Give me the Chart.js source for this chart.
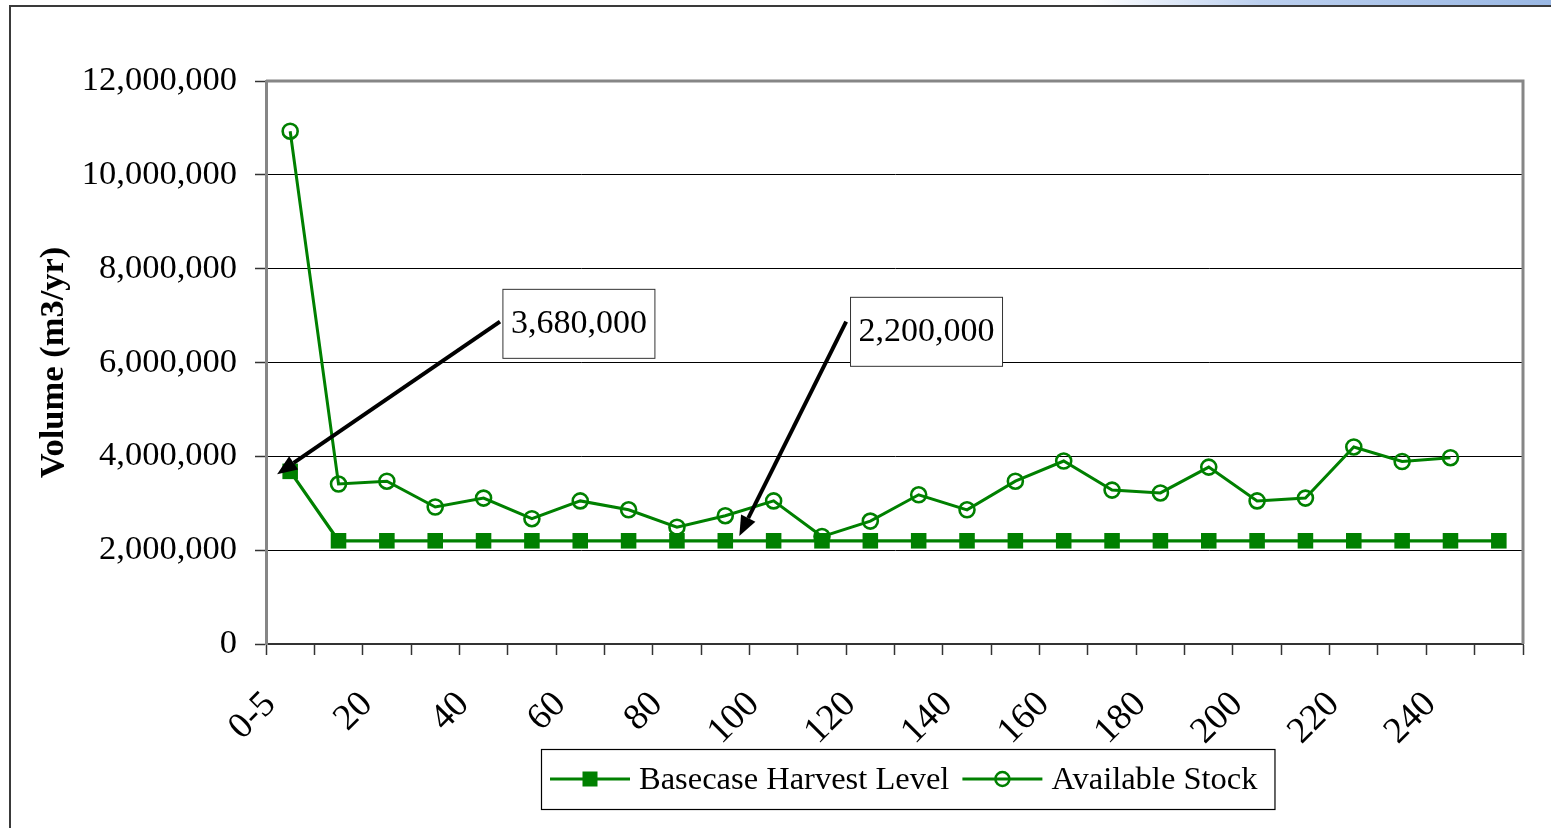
<!DOCTYPE html>
<html>
<head>
<meta charset="utf-8">
<script src="https://cdn.jsdelivr.net/npm/chart.js@4/dist/chart.umd.min.js"></script>
<style>
html,body{margin:0;padding:0;background:#fff;}
#wrap{position:relative;width:1551px;height:828px;overflow:hidden;background:#fff;}
#band{position:absolute;left:0;top:0;width:1551px;height:6px;background:linear-gradient(to right,#ffffff 0px,#ffffff 1090px,#bcd0ef 1260px,#9ab8e4 1551px);}
#frame{position:absolute;left:9px;top:5px;width:1600px;height:900px;border-left:2px solid #3a3a3a;border-top:2px solid #3a3a3a;}
#c{position:absolute;left:0;top:0;}
</style>
</head>
<body>
<div id="wrap"><div id="band"></div><div id="frame"></div><canvas id="c" width="1551" height="828"></canvas></div>
<script>
// ---- data ----
const categories = ["0-5","10","20","30","40","50","60","70","80","90","100","110","120","130","140","150","160","170","180","190","200","210","220","230","240","250"];
const harvestLevel = [3680000,2200000,2200000,2200000,2200000,2200000,2200000,2200000,2200000,2200000,2200000,2200000,2200000,2200000,2200000,2200000,2200000,2200000,2200000,2200000,2200000,2200000,2200000,2200000,2200000,2200000];
const availableStock = [10930000,3410000,3470000,2920000,3110000,2670000,3050000,2860000,2490000,2735000,3050000,2290000,2620000,3180000,2860000,3470000,3900000,3280000,3220000,3770000,3050000,3110000,4200000,3890000,3970000,null];
const yTickValues = [0,2000000,4000000,6000000,8000000,10000000,12000000];
const seriesNames = ["Basecase Harvest Level","Available Stock"];
const annotationTexts = ["3,680,000","2,200,000"];

const GREEN = "#008000";
const FONT = '"Liberation Serif","Times New Roman",serif';

// annotation placement (box + arrow) in scale units: category index / value
const annotationLayout = [
  {box:{i:4.39, v:7570000}, tail:{i:4.34, v:6870000}, head:{i:-0.27, v:3620000}},
  {box:{i:11.58, v:7400000}, tail:{i:11.50, v:6870000}, head:{i:9.29, v:2300000}}
];

function drawArrow(ctx, x1, y1, x2, y2){
  const ang = Math.atan2(y2-y1, x2-x1);
  const L = 20, W = 8;
  const bx = x2 - L*Math.cos(ang), by = y2 - L*Math.sin(ang);
  ctx.save();
  ctx.strokeStyle = "#000"; ctx.fillStyle = "#000"; ctx.lineWidth = 4; ctx.lineCap = "butt";
  ctx.beginPath(); ctx.moveTo(x1,y1); ctx.lineTo(bx,by); ctx.stroke();
  ctx.beginPath();
  ctx.moveTo(x2,y2);
  ctx.lineTo(bx + W*Math.sin(ang), by - W*Math.cos(ang));
  ctx.lineTo(bx - W*Math.sin(ang), by + W*Math.cos(ang));
  ctx.closePath(); ctx.fill();
  ctx.restore();
}

const overlayPlugin = {
  id: "overlay",
  afterDatasetsDraw(chart){
    const ctx = chart.ctx, ca = chart.chartArea;
    const xs = chart.scales.x, ys = chart.scales.y;
    ctx.save();
    // plot border top and right
    ctx.strokeStyle = "#868686"; ctx.lineWidth = 3;
    ctx.beginPath();
    ctx.moveTo(ca.left, ca.top); ctx.lineTo(ca.right, ca.top); ctx.lineTo(ca.right, ca.bottom);
    ctx.stroke();
    // annotations
    annotationTexts.forEach((t, k) => {
      const a = annotationLayout[k];
      drawArrow(ctx, xs.getPixelForValue(a.tail.i), ys.getPixelForValue(a.tail.v),
                     xs.getPixelForValue(a.head.i), ys.getPixelForValue(a.head.v));
      ctx.font = "34px " + FONT;
      const tw = ctx.measureText(t).width;
      const bx = xs.getPixelForValue(a.box.i), by = ys.getPixelForValue(a.box.v);
      const bw = tw + 16, bh = 69;
      ctx.fillStyle = "#fff"; ctx.fillRect(bx, by, bw, bh);
      ctx.strokeStyle = "#333"; ctx.lineWidth = 1;
      ctx.strokeRect(bx + 0.5, by + 0.5, bw, bh);
      ctx.fillStyle = "#000"; ctx.textAlign = "center"; ctx.textBaseline = "middle";
      ctx.fillText(t, bx + bw/2 + 0.5, by + bh/2 + 1);
    });
    // legend
    ctx.font = "32.5px " + FONT;
    const w1 = ctx.measureText(seriesNames[0]).width;
    const w2 = ctx.measureText(seriesNames[1]).width;
    const symW = 80, gapT = 9, gapItem = 13, padL = 9, padR = 17;
    const total = padL + symW + gapT + w1 + gapItem + symW + gapT + w2 + padR;
    const cx = ca.left + 642;
    const left = Math.round(cx - total/2), top = 749, h = 60, my = top + 30;
    ctx.strokeStyle = "#000"; ctx.lineWidth = 1.2;
    ctx.strokeRect(left + 0.5, top + 0.5, total, h);
    let x = left + padL;
    // item 1
    ctx.strokeStyle = GREEN; ctx.lineWidth = 3;
    ctx.beginPath(); ctx.moveTo(x, my); ctx.lineTo(x + symW, my); ctx.stroke();
    ctx.fillStyle = GREEN; ctx.fillRect(x + symW/2 - 7.5, my - 7.5, 15, 15);
    x += symW + gapT;
    ctx.fillStyle = "#000"; ctx.textAlign = "left"; ctx.textBaseline = "middle";
    ctx.fillText(seriesNames[0], x, my + 1);
    x += w1 + gapItem;
    // item 2
    ctx.strokeStyle = GREEN; ctx.lineWidth = 3;
    ctx.beginPath(); ctx.moveTo(x, my); ctx.lineTo(x + symW, my); ctx.stroke();
    ctx.lineWidth = 2.5;
    ctx.beginPath(); ctx.arc(x + symW/2, my, 7, 0, Math.PI*2); ctx.stroke();
    x += symW + gapT;
    ctx.fillStyle = "#000";
    ctx.fillText(seriesNames[1], x, my + 1);
    ctx.restore();
  }
};

new Chart(document.getElementById("c"), {
  type: "line",
  data: {
    labels: categories,
    datasets: [
      {
        label: seriesNames[0], data: harvestLevel,
        borderColor: GREEN, backgroundColor: GREEN, borderWidth: 3.2,
        pointStyle: "rect", pointRadius: 11, pointBorderWidth: 0,
        pointBackgroundColor: GREEN, tension: 0, order: 2
      },
      {
        label: seriesNames[1], data: availableStock,
        borderColor: GREEN, backgroundColor: "rgba(0,0,0,0)", borderWidth: 3,
        pointStyle: "circle", pointRadius: 7.5, pointBorderWidth: 2.6,
        pointBorderColor: GREEN, pointBackgroundColor: "rgba(0,0,0,0)", tension: 0, order: 1
      }
    ]
  },
  options: {
    responsive: false, animation: false, devicePixelRatio: 1, events: [],
    layout: { padding: { left: 0, top: 81, right: 28, bottom: 0 } },
    plugins: { legend: { display: false }, tooltip: { enabled: false }, title: { display: false } },
    scales: {
      x: {
        type: "category", offset: true,
        grid: { offset: true, drawOnChartArea: false, drawTicks: true, tickLength: 11, tickColor: "#333", tickWidth: 1.5 },
        border: { color: "#333", width: 2 },
        ticks: {
          autoSkip: false, minRotation: 45, maxRotation: 45, labelOffset: -20, padding: 28,
          color: "#000", font: { family: FONT, size: 37 },
          callback: (v, i) => (i % 2 === 0 ? categories[i] : "")
        },
        afterFit: (s) => { s.height = 184; s.paddingLeft = 0; s.paddingRight = 0; }
      },
      y: {
        min: 0, max: 12000000,
        afterBuildTicks: (s) => { s.ticks = yTickValues.map(v => ({ value: v })); },
        grid: { color: "#000", lineWidth: 1, drawTicks: true, tickLength: 11, tickColor: "#333", tickWidth: 1.5 },
        border: { color: "#868686", width: 3 },
        ticks: {
          padding: 18, color: "#000", font: { family: FONT, size: 34.5 },
          callback: (v) => Number(v).toLocaleString("en-US")
        },
        title: {
          display: true, text: "Volume (m3/yr)", color: "#000",
          font: { family: FONT, size: 34.5, weight: "bold" }, padding: { top: 33, bottom: 0 }
        },
        afterFit: (s) => { s.width = 266; }
      }
    }
  },
  plugins: [overlayPlugin]
});
</script>
</body>
</html>
